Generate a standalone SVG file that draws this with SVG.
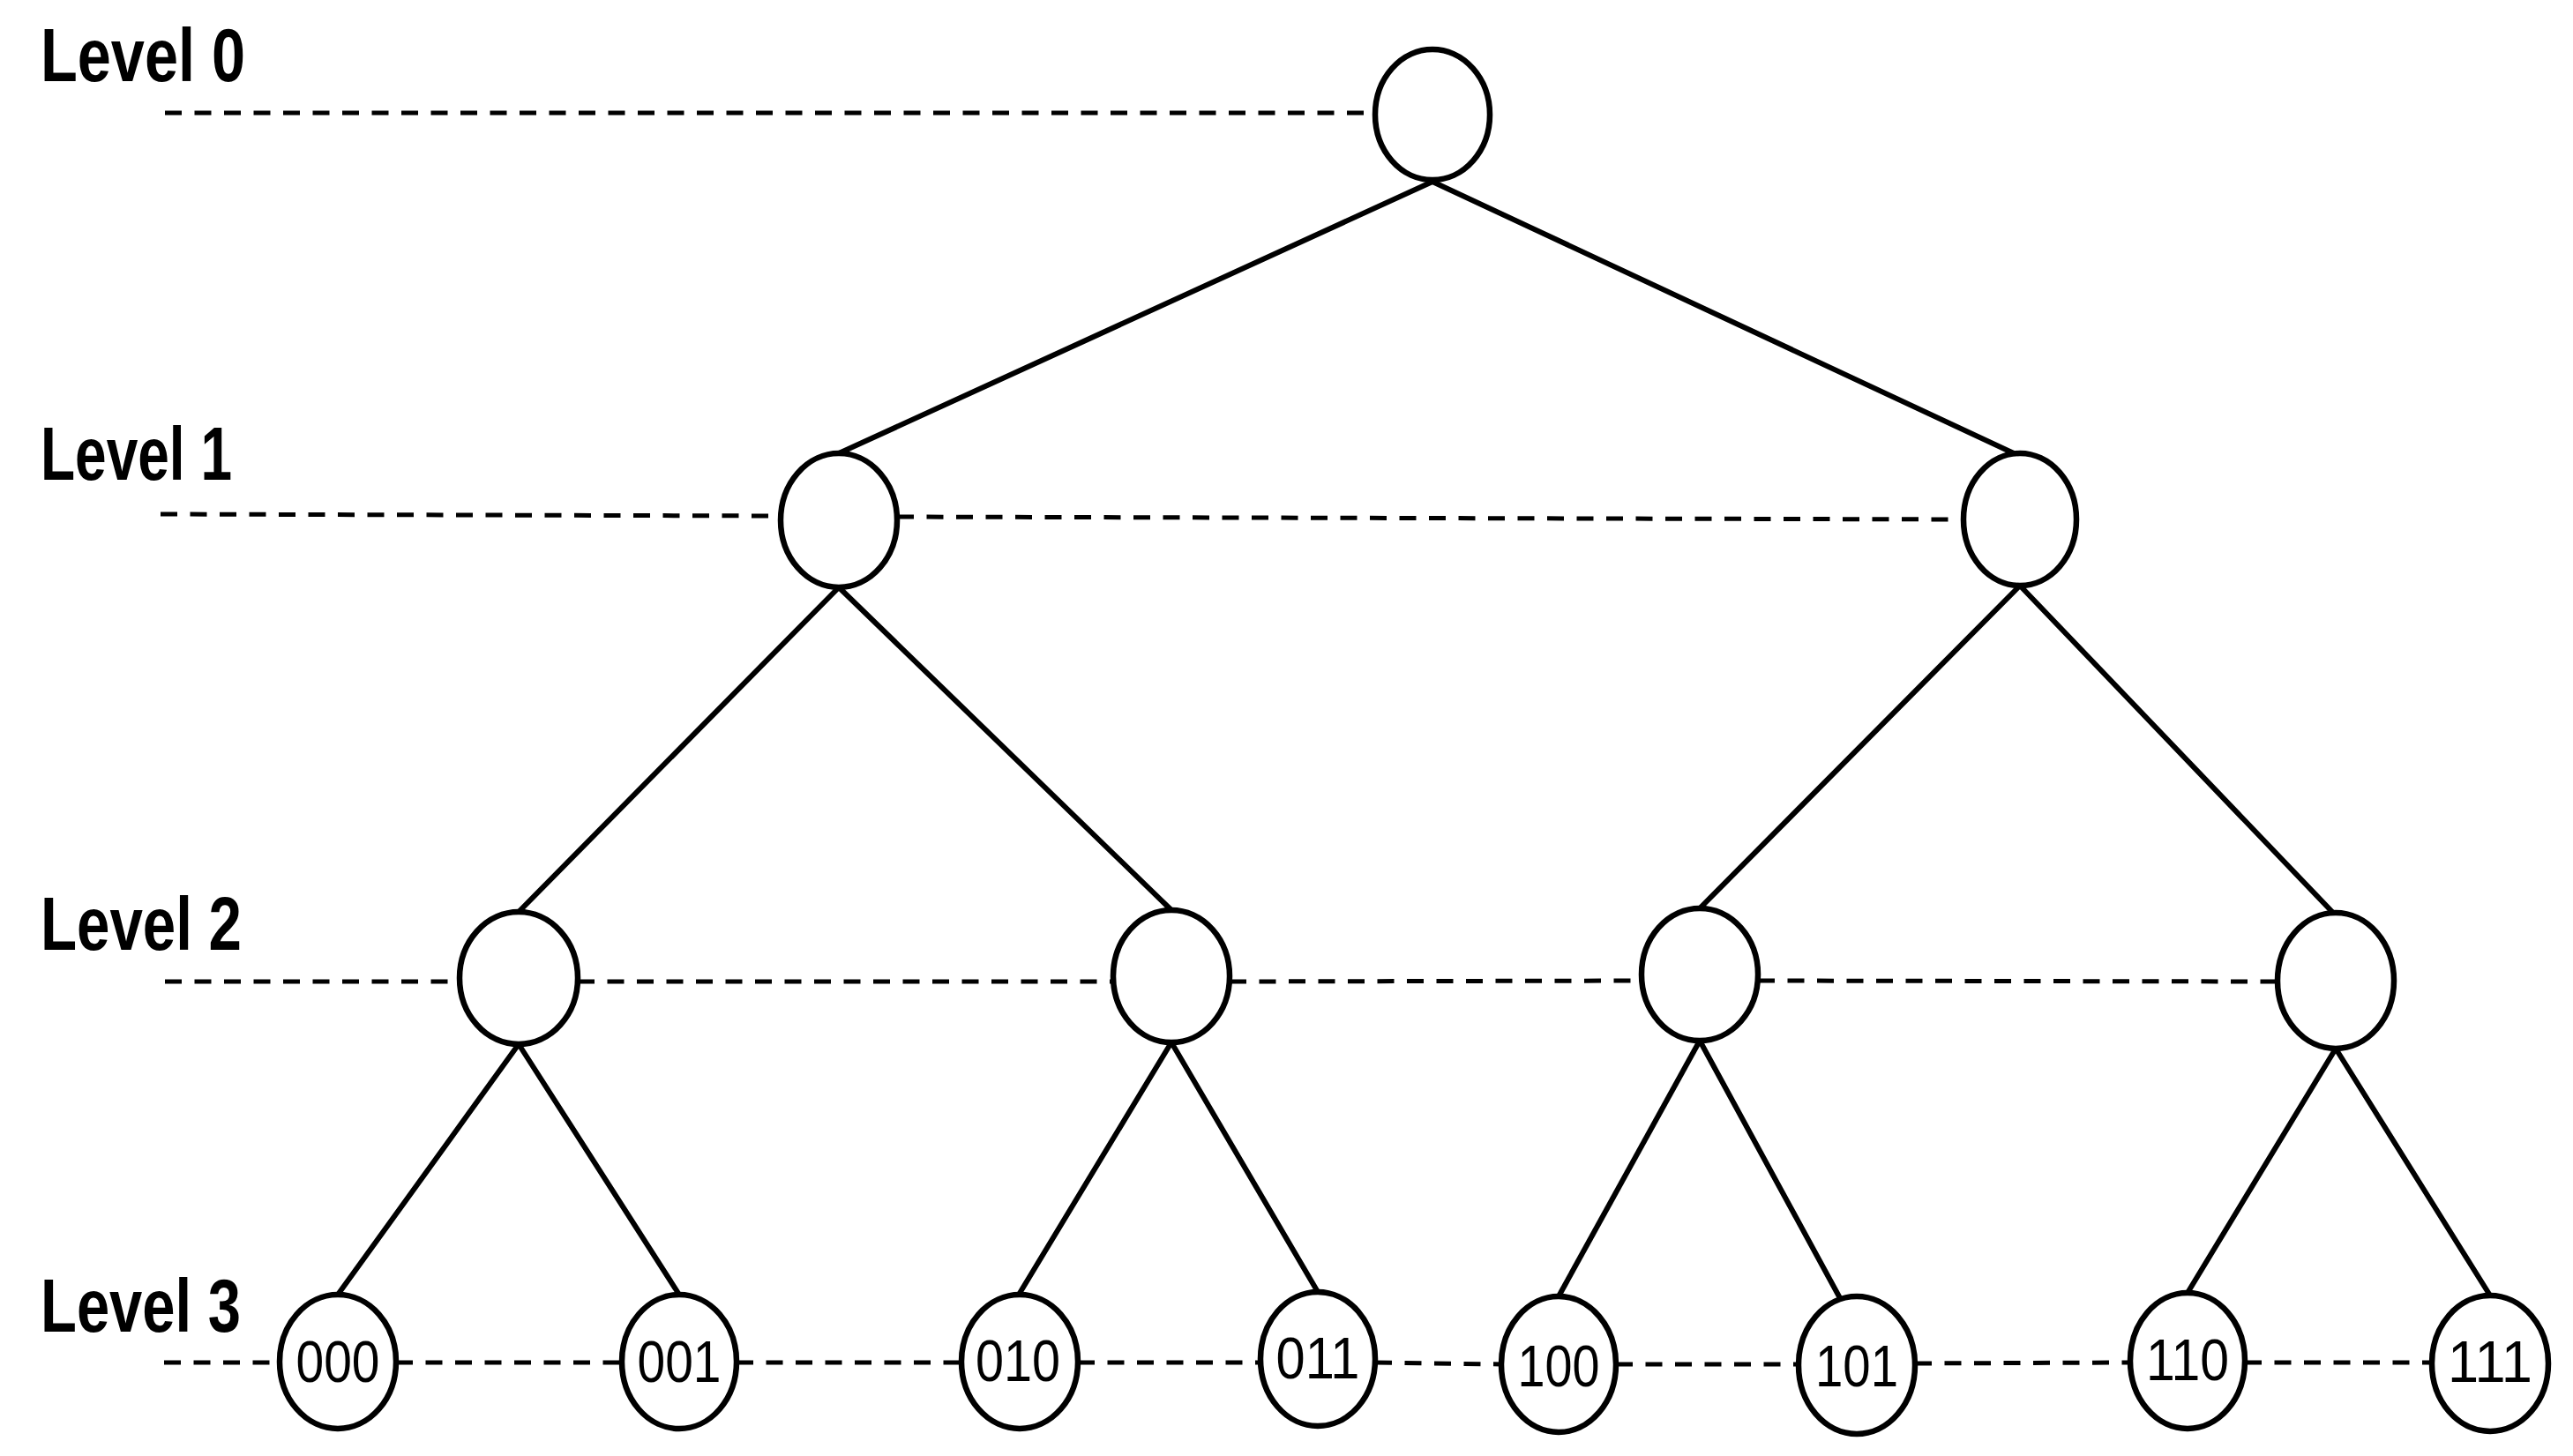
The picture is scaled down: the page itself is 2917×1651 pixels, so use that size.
<svg xmlns="http://www.w3.org/2000/svg" width="2917" height="1651" viewBox="0 0 2917 1651">
<style>
.node{fill:#fff;stroke:#000;stroke-width:6.5}
.edge{stroke:#000;stroke-width:6;fill:none;stroke-linecap:round}
.dash{stroke:#000;stroke-width:5;fill:none;stroke-dasharray:19 14.5}
.lvl{font-family:"Liberation Sans",Arial,sans-serif;font-weight:bold;font-size:86px;fill:#000}
.lbl{font-family:"Liberation Sans",Arial,sans-serif;font-size:66px;fill:#000;text-anchor:middle}
</style>
<rect width="2917" height="1651" fill="#fff"/>
<g id="level-labels">
<text class="lvl" x="46" y="92" textLength="232" lengthAdjust="spacingAndGlyphs">Level 0</text>
<text class="lvl" x="46" y="544" textLength="217" lengthAdjust="spacingAndGlyphs">Level 1</text>
<text class="lvl" x="46" y="1077" textLength="228" lengthAdjust="spacingAndGlyphs">Level 2</text>
<text class="lvl" x="46" y="1510" textLength="227" lengthAdjust="spacingAndGlyphs">Level 3</text>
</g>
<g id="connectors">
<line class="dash" x1="187" y1="128" x2="1559" y2="128"/>
<line class="dash" x1="182" y1="583" x2="885" y2="585"/>
<line class="dash" x1="1017" y1="586" x2="2226" y2="589"/>
<line class="dash" x1="187" y1="1113" x2="521" y2="1113"/>
<line class="dash" x1="655" y1="1113" x2="1262" y2="1113"/>
<line class="dash" x1="1394" y1="1113" x2="1861" y2="1112"/>
<line class="dash" x1="1993" y1="1112" x2="2582" y2="1113"/>
<line class="dash" x1="186" y1="1545" x2="317" y2="1545"/>
<line class="dash" x1="449" y1="1545" x2="705" y2="1545"/>
<line class="dash" x1="835" y1="1545" x2="1090" y2="1545"/>
<line class="dash" x1="1222" y1="1545" x2="1429" y2="1545"/>
<line class="dash" x1="1559" y1="1545" x2="1702" y2="1547"/>
<line class="dash" x1="1832" y1="1547" x2="2039" y2="1547"/>
<line class="dash" x1="2171" y1="1546" x2="2415" y2="1545"/>
<line class="dash" x1="2545" y1="1545" x2="2757" y2="1545"/>
<line class="edge" x1="1624" y1="206" x2="951" y2="514"/>
<line class="edge" x1="1624" y1="206" x2="2283" y2="514"/>
<line class="edge" x1="951" y1="666" x2="588" y2="1034"/>
<line class="edge" x1="951" y1="666" x2="1328" y2="1032"/>
<line class="edge" x1="2290" y1="664" x2="1927" y2="1030"/>
<line class="edge" x1="2290" y1="664" x2="2645" y2="1035"/>
<line class="edge" x1="588" y1="1184" x2="383" y2="1468"/>
<line class="edge" x1="588" y1="1184" x2="770" y2="1468"/>
<line class="edge" x1="1328" y1="1182" x2="1155" y2="1468"/>
<line class="edge" x1="1328" y1="1182" x2="1494" y2="1465"/>
<line class="edge" x1="1927" y1="1180" x2="1767" y2="1470"/>
<line class="edge" x1="1927" y1="1180" x2="2086" y2="1472"/>
<line class="edge" x1="2648" y1="1189" x2="2480" y2="1466"/>
<line class="edge" x1="2648" y1="1189" x2="2823" y2="1469"/>
</g>
<g id="root"><ellipse class="node" cx="1624" cy="130" rx="65" ry="74"/></g>
<g id="n0"><ellipse class="node" cx="951" cy="590" rx="66" ry="76"/></g>
<g id="n1"><ellipse class="node" cx="2290" cy="589" rx="64" ry="75"/></g>
<g id="n00"><ellipse class="node" cx="588" cy="1109" rx="67" ry="75"/></g>
<g id="n01"><ellipse class="node" cx="1328" cy="1107" rx="66" ry="75"/></g>
<g id="n10"><ellipse class="node" cx="1927" cy="1105" rx="66" ry="75"/></g>
<g id="n11"><ellipse class="node" cx="2648" cy="1112" rx="66" ry="77"/></g>
<g id="n000"><ellipse class="node" cx="383" cy="1544" rx="66" ry="76"/><text class="lbl" x="383" y="1567" textLength="95" lengthAdjust="spacingAndGlyphs">000</text></g>
<g id="n001"><ellipse class="node" cx="770" cy="1544" rx="65" ry="76"/><text class="lbl" x="770" y="1567" textLength="95" lengthAdjust="spacingAndGlyphs">001</text></g>
<g id="n010"><ellipse class="node" cx="1156" cy="1544" rx="66" ry="76"/><text class="lbl" x="1154" y="1566" textLength="96" lengthAdjust="spacingAndGlyphs">010</text></g>
<g id="n011"><ellipse class="node" cx="1494" cy="1541" rx="65" ry="76"/><text class="lbl" x="1494" y="1563" textLength="95" lengthAdjust="spacingAndGlyphs">011</text></g>
<g id="n100"><ellipse class="node" cx="1767" cy="1547" rx="65" ry="77"/><text class="lbl" x="1767" y="1572" textLength="93" lengthAdjust="spacingAndGlyphs">100</text></g>
<g id="n101"><ellipse class="node" cx="2105" cy="1548" rx="66" ry="78"/><text class="lbl" x="2105" y="1572" textLength="94" lengthAdjust="spacingAndGlyphs">101</text></g>
<g id="n110"><ellipse class="node" cx="2480" cy="1543" rx="65" ry="77"/><text class="lbl" x="2480" y="1565" textLength="94" lengthAdjust="spacingAndGlyphs">110</text></g>
<g id="n111"><ellipse class="node" cx="2823" cy="1546" rx="66" ry="77"/><text class="lbl" x="2823" y="1567" textLength="96" lengthAdjust="spacingAndGlyphs">111</text></g>
</svg>
